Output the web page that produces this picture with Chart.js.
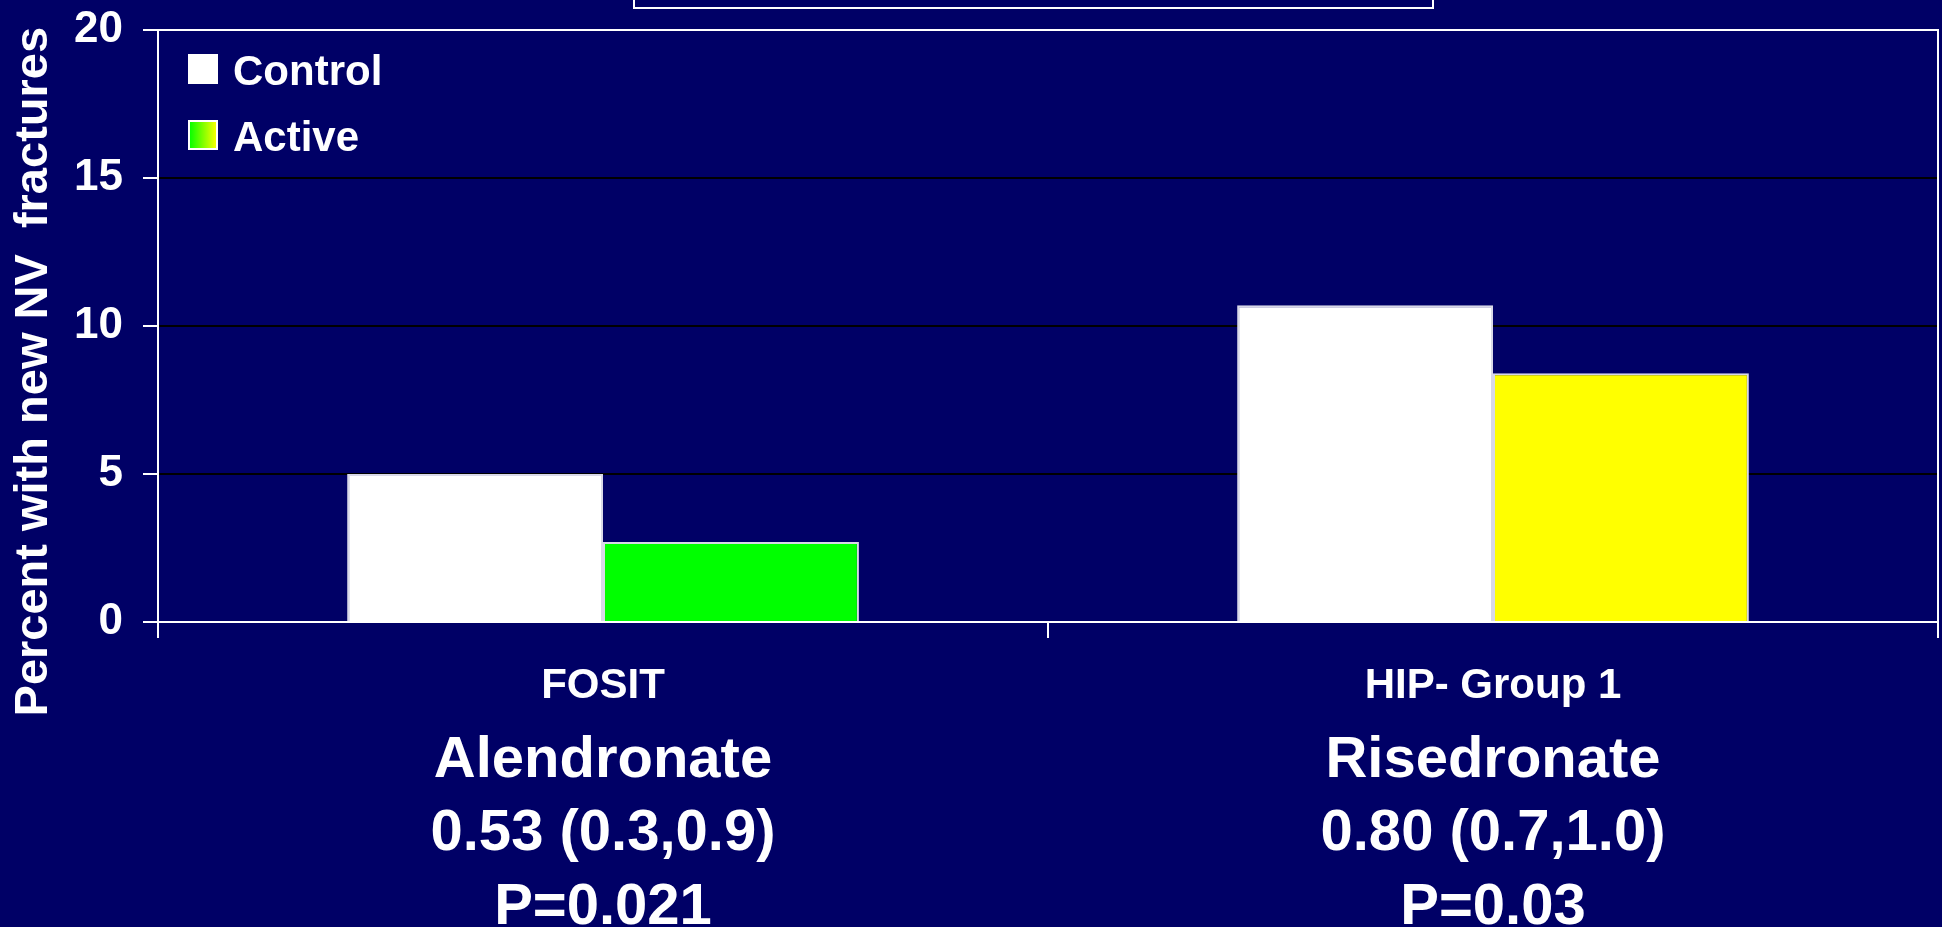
<!DOCTYPE html>
<html>
<head>
<meta charset="utf-8">
<title>Percent with new NV fractures</title>
<script src="https://cdn.jsdelivr.net/npm/chart.js@4.4.1/dist/chart.umd.min.js"></script>
<style>
  html, body { margin: 0; padding: 0; background: #000066; overflow: hidden; }
  canvas { display: block; }
</style>
</head>
<body>
<canvas id="chart" width="1942" height="927"></canvas>
<script>
const categories = ['FOSIT', 'HIP- Group 1'];
const drugNotes = [
  ['Alendronate', '0.53 (0.3,0.9)', 'P=0.021'],
  ['Risedronate', '0.80 (0.7,1.0)', 'P=0.03'],
];
const seriesNames = ['Control', 'Active'];
const controlValues = [5.0, 10.7];
const activeValues = [2.7, 8.4];
const yTicks = [0, 5, 10, 15, 20];
const yTitle = 'Percent with new NV  fractures';

const NAVY = '#000066';
const WHITE = '#ffffff';
const FONT = "'Liberation Sans', Arial, Helvetica, sans-serif";
const ACTIVE_COLORS = ['#00ff00', '#ffff00'];

const bold = (size) => ({ family: FONT, size, weight: 'bold' });

// legend swatch: 30px square, drawn to the right/top of a wider canvas
function makeSwatch(kind) {
  const c = document.createElement('canvas');
  c.width = 42;
  c.height = 38;
  const g = c.getContext('2d');
  if (kind === 'gradient') {
    const grad = g.createLinearGradient(13, 0, 41, 0);
    grad.addColorStop(0, '#00ff00');
    grad.addColorStop(1, '#ffff00');
    g.fillStyle = grad;
  } else {
    g.fillStyle = WHITE;
  }
  g.fillRect(13, 1, 28, 28);
  g.strokeStyle = WHITE;
  g.lineWidth = 2;
  g.strokeRect(13, 1, 28, 28);
  return c;
}

const swatches = [makeSwatch('white'), makeSwatch('gradient')];

const slideBackdrop = {
  id: 'slideBackdrop',
  beforeDraw(chart) {
    const { ctx, width, height } = chart;
    ctx.save();
    ctx.fillStyle = NAVY;
    ctx.fillRect(0, 0, width, height);
    // title box of the slide, cropped off at the top
    ctx.strokeStyle = WHITE;
    ctx.lineWidth = 2;
    ctx.strokeRect(634, -20, 799, 28);
    ctx.restore();
  },
};

function renderChart() {
  const ctx = document.getElementById('chart');
  new Chart(ctx, {
    type: 'bar',
    data: {
      labels: categories,
      datasets: [
        {
          label: seriesNames[0],
          data: controlValues,
          backgroundColor: WHITE,
          borderColor: '#d8d8e8',
          borderWidth: 2,
        },
        {
          label: seriesNames[1],
          data: activeValues,
          backgroundColor: ACTIVE_COLORS,
          borderColor: '#d8d8e8',
          borderWidth: 2,
        },
      ],
    },
    options: {
      responsive: false,
      animation: false,
      devicePixelRatio: 1,
      events: [],
      categoryPercentage: 0.575,
      barPercentage: 1,
      layout: { padding: { top: 30, right: 4, left: 0, bottom: 0 } },
      plugins: {
        tooltip: { enabled: false },
        legend: {
          position: 'chartArea',
          align: 'start',
          // empty title only pushes the entries down from the plot's top edge
          title: { display: true, text: '', font: { size: 10, lineHeight: 1 }, padding: { top: 9, bottom: 9 } },
          labels: {
            color: WHITE,
            font: bold(42),
            usePointStyle: true,
            pointStyleWidth: 30,
            padding: 24,
            generateLabels: (chart) =>
              chart.data.datasets.map((ds, i) => ({
                text: ds.label,
                datasetIndex: i,
                pointStyle: swatches[i],
                fontColor: WHITE,
                fillStyle: 'transparent',
                strokeStyle: 'transparent',
                lineWidth: 0,
                hidden: false,
              })),
          },
        },
      },
      scales: {
        x: {
          offset: true,
          grid: {
            offset: true,
            drawOnChartArea: false,
            tickLength: 16,
            tickColor: WHITE,
            tickWidth: 2,
            lineWidth: 2,
          },
          border: { color: WHITE, width: 2 },
          ticks: { color: WHITE, font: bold(42), padding: 23, maxRotation: 0, autoSkip: false },
          afterFit: (s) => { s.height = 112; },
        },
        notes: {
          type: 'category',
          position: 'bottom',
          labels: drugNotes,
          offset: true,
          grid: { display: false, drawTicks: false },
          border: { display: false },
          ticks: {
            color: WHITE,
            font: { ...bold(58), lineHeight: 1.27 },
            padding: -10,
            maxRotation: 0,
            autoSkip: false,
          },
          afterFit: (s) => { s.height = 193; },
        },
        y: {
          min: yTicks[0],
          max: yTicks[yTicks.length - 1],
          ticks: { stepSize: yTicks[1] - yTicks[0], color: WHITE, font: bold(44), padding: 20 },
          grid: {
            color: (c) => (c.tick && (c.tick.value === yTicks[0] || c.tick.value === yTicks[yTicks.length - 1]) ? WHITE : '#000000'),
            lineWidth: 2,
            tickLength: 15,
            tickColor: WHITE,
            tickWidth: 2,
          },
          border: { color: WHITE, width: 2 },
          title: {
            display: true,
            text: yTitle + '\u00a0'.repeat(7),
            color: WHITE,
            font: bold(47),
            padding: { top: 6, bottom: 0 },
          },
          afterFit: (s) => {
            s.width = 158;
            s.paddingTop = 0;
            s.paddingBottom = 0;
          },
        },
        edge: {
          type: 'linear',
          position: 'right',
          display: true,
          ticks: { display: false },
          grid: { drawOnChartArea: false, drawTicks: false },
          border: { color: WHITE, width: 2 },
        },
      },
    },
    plugins: [slideBackdrop],
  });
}

renderChart();
</script>
</body>
</html>
